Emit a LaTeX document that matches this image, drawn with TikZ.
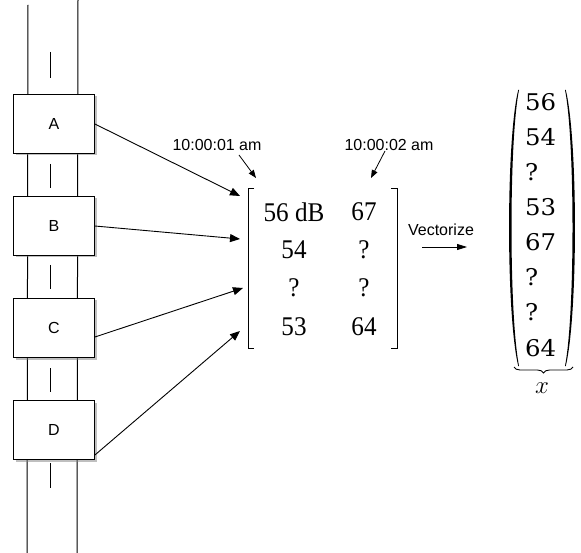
\documentclass[tikz,border=0pt]{standalone}
\usepackage{fontspec}
\newfontfamily\sansf{Liberation Sans}
\newfontfamily\seriff[FakeStretch=0.93]{Liberation Serif}
\newfontfamily\vecf[FakeStretch=1.06]{DejaVu Serif}
\usetikzlibrary{arrows.meta,shadows,decorations.pathreplacing}
\begin{document}
\begin{tikzpicture}[x=1pt,y=-1pt,
  road/.style={line width=1pt},
  sensor/.style={draw,line width=0.8pt,fill=white,minimum width=81pt,minimum height=59pt,inner sep=0pt,
     font=\sansf\fontsize{16}{16}\selectfont,
     drop shadow={shadow xshift=2pt,shadow yshift=-2pt,opacity=0.5,fill=gray}},
  conn/.style={line width=0.9pt,-{Triangle[length=10pt,width=8pt]}},
  lab/.style={font=\sansf\fontsize{16}{16}\selectfont,inner sep=0pt},
  ment/.style={font=\seriff\fontsize{27}{27}\selectfont,inner sep=0pt},
  vent/.style={font=\vecf\fontsize{23}{23}\selectfont,inner sep=0pt,anchor=west},
  paren/.style={fill=black}]
\useasboundingbox (0,0) rectangle (581,553);
% road
\draw[road] (28,5) -- (27,553);
\draw[road] (78,0) -- (77,553);
\foreach \a/\b in {52/78,164/188,265/289,368/392,463/488}
  \draw[road] (50,\a) -- (50,\b);
% sensors
\node[sensor] (A) at (54,124) {A};
\node[sensor] (B) at (54,226) {B};
\node[sensor] (C) at (54,328) {C};
\node[sensor] (D) at (54,430) {D};
% matrix
\draw[line width=1pt] (254,189) -- (248,189) -- (248,348) -- (254,348);
\draw[line width=1pt] (391,189) -- (397,189) -- (397,348) -- (391,348);
\node[ment] (m11) at (294,212) {56 dB};
\node[ment] (m12) at (364,212) {67};
\node[ment] (m21) at (294,250) {54};
\node[ment] (m22) at (364,250) {?};
\node[ment] (m31) at (294,288) {?};
\node[ment] (m32) at (364,288) {?};
\node[ment] (m41) at (294,327) {53};
\node[ment] (m42) at (364,327) {64};
% arrow tips
\coordinate (tA) at (240,196);
\coordinate (tB) at (240,239);
\coordinate (tC) at (243,288);
\coordinate (tD) at (240,331);
\coordinate (sC) at ([yshift=-9pt]C.east);
\coordinate (sD) at ([yshift=-25pt]D.east);
\draw[conn] (A.east) -- (tA);
\draw[conn] (B.east) -- (tB);
\draw[conn] (sC) -- (tC);
\draw[conn] (sD) -- (tD);
% timestamps
\node[lab] (t1) at (217,145) {10:00:01 am};
\node[lab] (t2) at (389,145) {10:00:02 am};
\coordinate (t1a) at (239,155);
\coordinate (t1b) at (256,178);
\coordinate (t2a) at (385,151);
\coordinate (t2b) at (371,178);
\draw[line width=0.8pt,-{Triangle[length=8pt,width=6pt]}] (t1a) -- (t1b);
\draw[line width=0.8pt,-{Triangle[length=8pt,width=6pt]}] (t2a) -- (t2b);
% vectorize
\node[lab] (vec) at (441,230) {Vectorize};
\coordinate (va) at (422,247);
\coordinate (vb) at (467,247);
\draw[line width=0.8pt,-{Triangle[length=10pt,width=6pt]}] (va) -- (vb);
% vector
\foreach \v [count=\i from 0] in {56,54,?,53,67,?,?,64}
  \node[vent] at (525,102+35.1*\i) {\v};
\fill[paren] (519,90) .. controls (509,140) and (509,315) .. (519,366)
   -- (518.2,366) .. controls (506,315) and (506,140) .. (518.2,90) -- cycle;
\fill[paren] (565,90) .. controls (575,140) and (575,315) .. (565,366)
   -- (565.8,366) .. controls (578,315) and (578,140) .. (565.8,90) -- cycle;
\draw[decorate,decoration={brace,mirror,amplitude=6pt},line width=0.9pt] (514,367) -- (573,367);
\node[font=\fontsize{26}{26}\selectfont,inner sep=0pt] (xl) at (542,388) {$x$};
\end{tikzpicture}
\end{document}
